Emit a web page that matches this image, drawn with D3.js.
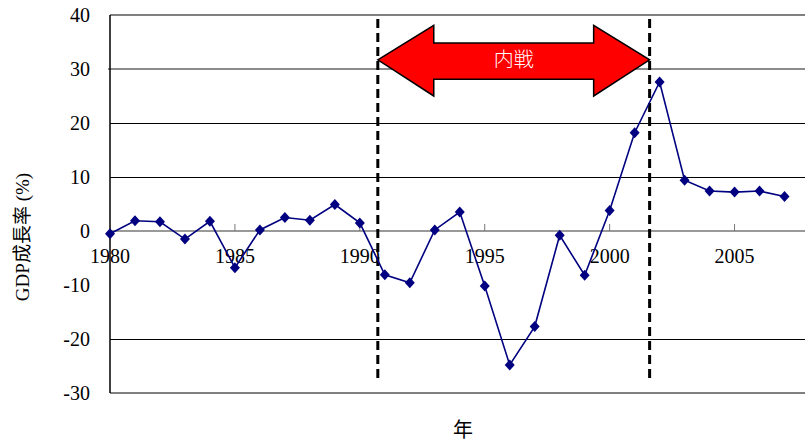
<!DOCTYPE html>
<html>
<head>
<meta charset="utf-8">
<script src="https://cdn.jsdelivr.net/npm/d3@7"></script>
<style>
  body { margin: 0; background: #fff; }
</style>
</head>
<body>
<svg id="chart" width="805" height="441"></svg>
<script>
// GDP growth rate by year
const years = d3.range(1980, 2008);
const growth = [-0.5, 1.9, 1.7, -1.5, 1.8, -6.8, 0.2, 2.5, 2.0, 4.9,
  1.5, -8.1, -9.6, 0.2, 3.5, -10.2, -24.8, -17.7, -0.8, -8.2,
  3.8, 18.2, 27.6, 9.4, 7.4, 7.2, 7.4, 6.4];
const yTicks = [40, 30, 20, 10, 0, -10, -20, -30];
const xTicks = [1980, 1985, 1990, 1995, 2000, 2005];
const gridBlack = [20, 10, -20];
const gridGray = [30];
const warStart = 1990.72, warEnd = 2001.6;

const serif = "'Liberation Serif', 'Times New Roman', 'DejaVu Serif', 'Noto Sans CJK JP', serif";
const svg = d3.select("#chart");
const pLeft = 110, pRight = 812, pTop = 15, pBottom = 393;

const x = d3.scaleLinear().domain([1980, 2008.1]).range([pLeft, pRight]);
const y = d3.scaleLinear().domain([-30, 40]).range([pBottom, pTop]);

// gridlines
svg.selectAll("line.gb").data(gridBlack).enter().append("line")
  .attr("x1", pLeft).attr("x2", pRight)
  .attr("y1", d => Math.round(y(d)) + 0.5).attr("y2", d => Math.round(y(d)) + 0.5)
  .attr("stroke", "#000").attr("stroke-width", 1);
svg.selectAll("line.gg").data(gridGray).enter().append("line")
  .attr("x1", pLeft - 2).attr("x2", pRight)
  .attr("y1", d => y(d)).attr("y2", d => y(d))
  .attr("stroke", "#666").attr("stroke-width", 1.3);
// frame top / bottom
[40, -30].forEach(v => {
  svg.append("line").attr("x1", pLeft).attr("x2", pRight)
    .attr("y1", y(v)).attr("y2", y(v))
    .attr("stroke", "#808080").attr("stroke-width", 2);
});
// zero axis
svg.append("line").attr("x1", pLeft).attr("x2", pRight)
  .attr("y1", y(0)).attr("y2", y(0))
  .attr("stroke", "#777").attr("stroke-width", 1.5);
svg.selectAll("line.xt").data(xTicks.slice(1)).enter().append("line")
  .attr("x1", d => x(d)).attr("x2", d => x(d))
  .attr("y1", y(0)).attr("y2", y(0) - 7)
  .attr("stroke", "#777").attr("stroke-width", 1);
// left axis
svg.append("line").attr("x1", pLeft).attr("x2", pLeft)
  .attr("y1", y(40)).attr("y2", y(-30))
  .attr("stroke", "#000").attr("stroke-width", 1.5);

// y tick labels
svg.selectAll("text.yl").data(yTicks).enter().append("text")
  .attr("x", 90).attr("y", d => y(d))
  .attr("dy", "0.35em").attr("text-anchor", "end")
  .attr("font-family", serif)
  .attr("font-size", 20).text(d => d);

// x tick labels
svg.selectAll("text.xl").data(xTicks).enter().append("text")
  .attr("x", d => x(d)).attr("y", y(0) + 32)
  .attr("text-anchor", "middle")
  .attr("font-family", serif)
  .attr("font-size", 20).text(d => d);

// axis titles
svg.append("text")
  .attr("transform", "translate(29," + 237 + ") rotate(-90)")
  .attr("text-anchor", "middle").attr("font-size", 19)
  .attr("font-family", serif)
  .text("GDP成長率 (%)");
svg.append("text")
  .attr("x", 463).attr("y", 437)
  .attr("text-anchor", "middle").attr("font-size", 20)
  .attr("font-family", serif)
  .text("年");

// civil war dashed lines
[warStart, warEnd].forEach(yr => {
  svg.append("line")
    .attr("x1", x(yr)).attr("x2", x(yr))
    .attr("y1", pTop + 4).attr("y2", pBottom - 10)
    .attr("stroke", "#000").attr("stroke-width", 3)
    .attr("stroke-dasharray", "9,5");
});

// double arrow
const ax0 = x(warStart), ax1 = x(warEnd);
const headLen = x(1982.24) - x(1980);
const midY = y(31.7), headT = y(38.1), headB = y(25.0), shaftT = y(34.8), shaftB = y(28.1);
const arrowPts = [
  [ax0, midY], [ax0 + headLen, headT], [ax0 + headLen, shaftT],
  [ax1 - headLen, shaftT], [ax1 - headLen, headT], [ax1, midY],
  [ax1 - headLen, headB], [ax1 - headLen, shaftB],
  [ax0 + headLen, shaftB], [ax0 + headLen, headB]
];
svg.append("path")
  .attr("d", d3.line()(arrowPts) + "Z")
  .attr("fill", "#ff0000").attr("stroke", "#000").attr("stroke-width", 1.5)
  .attr("stroke-linejoin", "miter");
svg.append("text")
  .attr("x", (ax0 + ax1) / 2).attr("y", midY)
  .attr("dy", "0.35em").attr("text-anchor", "middle")
  .attr("font-size", 20).attr("fill", "#fff")
  .attr("font-family", "'Noto Sans CJK JP', sans-serif").attr("font-weight", 300)
  .text("内戦");

// data line
const pts = years.map((yr, i) => [yr, growth[i]]);
svg.append("path")
  .datum(pts)
  .attr("d", d3.line().x(d => x(d[0])).y(d => y(d[1])))
  .attr("fill", "none").attr("stroke", "#000080").attr("stroke-width", 1.6);
svg.selectAll("path.mk").data(pts).enter().append("path")
  .attr("transform", d => "translate(" + x(d[0]) + "," + y(d[1]) + ")")
  .attr("d", "M0,-5.5L5,0L0,5.5L-5,0Z")
  .attr("fill", "#000080");
</script>
</body>
</html>
